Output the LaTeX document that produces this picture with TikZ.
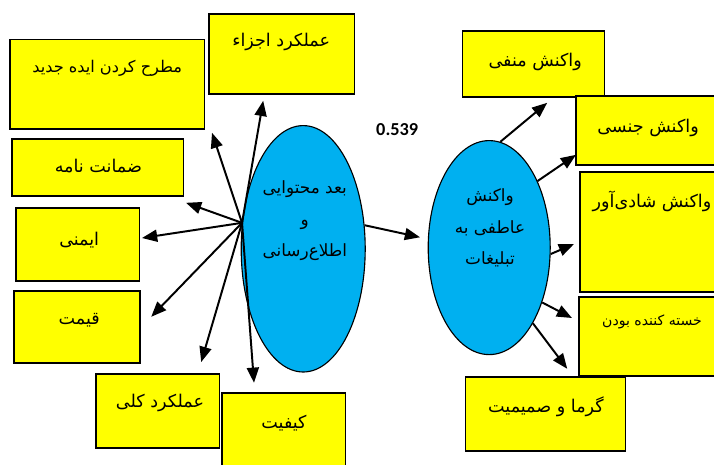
\documentclass[tikz,border=0pt]{standalone}
\usepackage{fontspec}
\newfontfamily\fa[Script=Arabic]{DejaVu Sans}
\newfontfamily\numfont{Carlito}
\TeXXeTstate=1
\usetikzlibrary{arrows.meta,shapes.geometric}
\definecolor{boxyellow}{HTML}{FFFF00}
\definecolor{ovalblue}{HTML}{00B0F0}
\tikzset{
    box/.style={draw, line width=1pt, fill=boxyellow, rectangle, inner sep=0pt},
    oval/.style={draw, line width=0.8pt, fill=ovalblue, ellipse, inner sep=0pt},
    lbl/.style={font=\fa\fontsize{12.5}{14}\selectfont, inner sep=0pt},
    ovallbl/.style={font=\fa\fontsize{12}{22.5}\selectfont, align=center, inner sep=0pt},
    arr/.style={line width=1.4pt, -{Triangle[length=0.38cm, width=0.3cm]}}
}
\begin{document}
\begin{tikzpicture}
    \clip (0,0) rectangle (17.85,11.6);
    \fill[white] (0,0) rectangle (17.85,11.6);

    % boxes on the left
    \node[box, minimum width=3.63cm, minimum height=2cm] (ajza) at (7.04,10.25) {};
    \node[box, minimum width=4.85cm, minimum height=2.23cm] (idea) at (2.68,9.49) {};
    \node[box, minimum width=4.28cm, minimum height=1.43cm] (zemanat) at (2.44,7.41) {};
    \node[box, minimum width=3.08cm, minimum height=1.83cm] (imeni) at (1.94,5.49) {};
    \node[box, minimum width=3.15cm, minimum height=1.8cm] (gheymat) at (1.93,3.43) {};
    \node[box, minimum width=3.08cm, minimum height=1.85cm] (kolli) at (3.94,1.33) {};
    \node[box, minimum width=3.08cm, minimum height=2cm] (keyfiyat) at (7.09,0.78) {};

    \node[lbl] (ajza-t) at (7.03,10.55) {\beginR عملکرد اجزاء\endR};
    \node[lbl, font=\fa\fontsize{11.5}{13}\selectfont] (idea-t) at (2.68,9.88) {\beginR مطرح کردن ایده جدید\endR};
    \node[lbl] (zemanat-t) at (2.46,7.45) {\beginR ضمانت نامه\endR};
    \node[lbl] (imeni-t) at (1.98,5.6) {\beginR ایمنی\endR};
    \node[lbl] (gheymat-t) at (1.98,3.6) {\beginR قیمت\endR};
    \node[lbl] (kolli-t) at (4.0,1.53) {\beginR عملکرد کلی\endR};
    \node[lbl] (keyfiyat-t) at (7.1,1.02) {\beginR کیفیت\endR};

    % boxes on the right
    \node[box, minimum width=3.55cm, minimum height=1.65cm] (manfi) at (13.33,10.0) {};
    \node[box, minimum width=3.73cm, minimum height=1.73cm] (jensi) at (16.26,8.34) {};
    \node[box, minimum width=3.88cm, minimum height=3cm] (shadi) at (16.44,5.8) {};
    \node[box, minimum width=3.65cm, minimum height=1.98cm] (khaste) at (16.3,3.19) {};
    \node[box, minimum width=4cm, minimum height=1.85cm] (garma) at (13.63,1.25) {};

    \node[lbl] (manfi-t) at (13.38,10.05) {\beginR واکنش منفی\endR};
    \node[lbl] (jensi-t) at (16.2,8.4) {\beginR واکنش جنسی\endR};
    \node[lbl] (shadi-t) at (16.3,6.57) {\beginR واکنش شادی^^^^200cآور\endR};
    \node[lbl, font=\fa\fontsize{10}{12}\selectfont] (khaste-t) at (16.3,3.55) {\beginR خسته کننده بودن\endR};
    \node[lbl] (garma-t) at (13.65,1.43) {\beginR گرما و صمیمیت\endR};

    % the two ovals
    \node[oval, minimum width=3.1cm, minimum height=6.16cm] (bod) at (7.58,5.38) {};
    \node[oval, minimum width=3.05cm, minimum height=5.35cm] (emo) at (12.23,5.41) {};

    \node[ovallbl] (bod-t) at (7.62,6.08) {\beginR بعد محتوایی\endR\\ \beginR و\endR\\ \beginR اطلاع^^^^200cرسانی\endR};
    \node[ovallbl] (emo-t) at (12.25,5.9) {\beginR واکنش\endR\\ \beginR عاطفی به\endR\\ \beginR تبلیغات\endR};

    \node[font=\numfont\bfseries\fontsize{13}{15}\selectfont, inner sep=0pt] (coef) at (9.93,8.35) {0.539};

    % arrow ends
    \coordinate (hub) at (bod.157);
    \coordinate (ajza-e) at (6.58,9.08);
    \coordinate (idea-e) at (5.3,8.28);
    \coordinate (zemanat-e) at (4.65,6.53);
    \coordinate (imeni-e) at (3.55,5.65);
    \coordinate (gheymat-e) at (3.78,3.68);
    \coordinate (kolli-e) at (5.03,2.55);
    \coordinate (keyfiyat-e) at (6.35,2.03);
    \coordinate (manfi-e) at (13.68,9.03);
    \coordinate (jensi-e) at (14.4,7.73);
    \coordinate (shadi-e) at (14.35,5.5);
    \coordinate (khaste-e) at (14.3,3.65);
    \coordinate (garma-e) at (14.18,2.38);

    \draw[arr] (hub) -- (ajza-e);
    \draw[arr] (hub) -- (idea-e);
    \draw[arr] (hub) -- (zemanat-e);
    \draw[arr] (hub) -- (imeni-e);
    \draw[arr] (hub) -- (gheymat-e);
    \draw[arr] (hub) -- (kolli-e);
    \draw[arr] (hub) -- (keyfiyat-e);

    \draw[arr, shorten >=0.2cm] (bod.21) -- (emo.172);

    \draw[arr] (emo.84) -- (manfi-e);
    \draw[arr] (emo.54) -- (jensi-e);
    \draw[arr] (emo.-6) -- (shadi-e);
    \draw[arr] (emo.-46) -- (khaste-e);
    \draw[arr] (emo.-60) -- (garma-e);
\end{tikzpicture}
\end{document}
